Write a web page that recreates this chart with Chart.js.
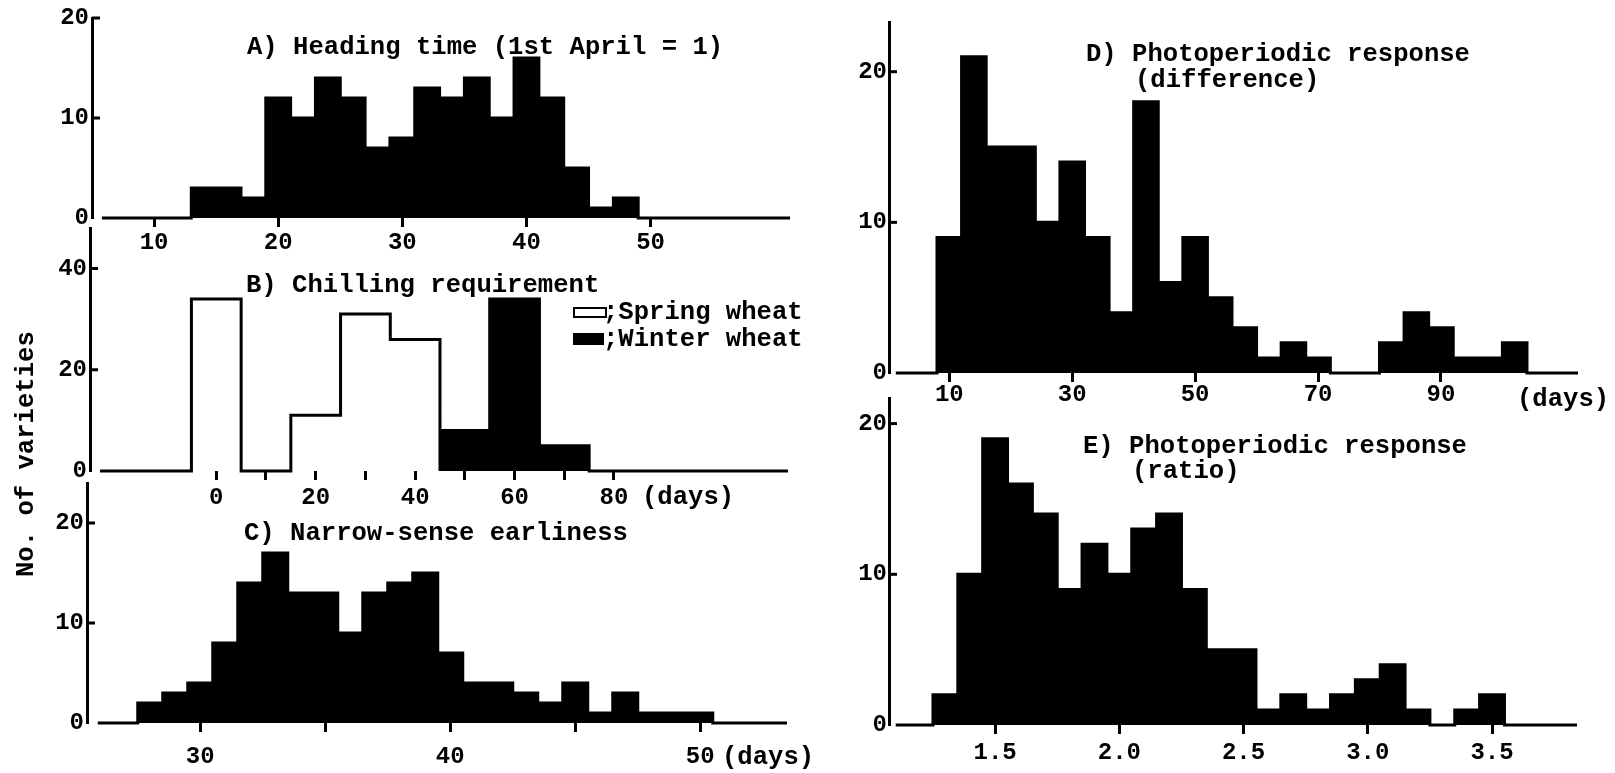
<!DOCTYPE html>
<html>
<head>
<meta charset="utf-8">
<title>Frequency distributions of wheat varieties</title>
<script src="https://cdn.jsdelivr.net/npm/chart.js@4.4.1/dist/chart.umd.min.js"></script>
<style>
  html, body { margin: 0; padding: 0; background: #fff; }
  #page { position: relative; width: 1615px; height: 773px; overflow: hidden; background: #fff; }
  .panel { position: absolute; }
  .txt {
    position: absolute;
    font-family: 'Liberation Mono', 'Courier New', monospace;
    font-weight: bold;
    font-size: 25.6px;
    line-height: 25.6px;
    white-space: pre;
    color: #000;
  }
  .key { position: absolute; box-sizing: border-box; }
</style>
</head>
<body>
<div id="page">
  <div class="panel" id="pA"><canvas id="cA"></canvas></div>
  <div class="panel" id="pB"><canvas id="cB"></canvas></div>
  <div class="panel" id="pC"><canvas id="cC"></canvas></div>
  <div class="panel" id="pD"><canvas id="cD"></canvas></div>
  <div class="panel" id="pE"><canvas id="cE"></canvas></div>

  <div class="txt" style="left:247px; top:35px;">A) Heading time (1st April = 1)</div>
  <div class="txt" style="left:246px; top:273px;">B) Chilling requirement</div>
  <div class="txt" style="left:244px; top:521px;">C) Narrow-sense earliness</div>
  <div class="txt" style="left:1086px; top:42px;">D) Photoperiodic response</div>
  <div class="txt" style="left:1135px; top:68px;">(difference)</div>
  <div class="txt" style="left:1083px; top:434px;">E) Photoperiodic response</div>
  <div class="txt" style="left:1132px; top:459px;">(ratio)</div>

  <div class="key" style="left:573px; top:307px; width:34px; height:11px; border:2.5px solid #000; background:#fff;"></div>
  <div class="txt" style="left:603px; top:300px;">;Spring wheat</div>
  <div class="key" style="left:573px; top:333px; width:31px; height:12px; background:#000;"></div>
  <div class="txt" style="left:603px; top:327px;">;Winter wheat</div>

  <div class="txt" style="left:642px; top:485px;">(days)</div>
  <div class="txt" style="left:722px; top:745px;">(days)</div>
  <div class="txt" style="left:1517px; top:387px;">(days)</div>

  <div class="txt" style="left:14px; top:577px; transform-origin:0 0; transform:rotate(-90deg);">No. of varieties</div>
</div>

<script>
// A) heading time, 2-day classes
var aEdges = [13, 15, 17, 19, 21, 23, 25, 27, 29, 31, 33, 35, 37, 39, 41, 43, 45, 47, 49];
var aCounts = [3, 3, 2, 12, 10, 14, 12, 7, 8, 13, 12, 14, 10, 16, 12, 5, 1, 2];
var aTicks = [10, 20, 30, 40, 50];
var aTickLabels = ['10', '20', '30', '40', '50'];
var aYTicks = [0, 10, 20];

// B) chilling requirement, 10-day classes
var bSpringEdges = [-5, 5, 15, 25, 35, 45];
var bSpringCounts = [34, 0, 11, 31, 26];
var bWinterEdges = [45, 55, 65, 75];
var bWinterCounts = [8, 34, 5];
var bTicks = [0, 10, 20, 30, 40, 50, 60, 70, 80];
var bTickLabels = ['0', '', '20', '', '40', '', '60', '', '80'];
var bYTicks = [0, 20, 40];

// C) narrow-sense earliness, 1-day classes
var cEdges = [27.5, 28.5, 29.5, 30.5, 31.5, 32.5, 33.5, 34.5, 35.5, 36.5, 37.5, 38.5,
              39.5, 40.5, 41.5, 42.5, 43.5, 44.5, 45.5, 46.5, 47.5, 48.5, 49.5, 50.5];
var cCounts = [2, 3, 4, 8, 14, 17, 13, 13, 9, 13, 14, 15, 7, 4, 4, 3, 2, 4, 1, 3, 1, 1, 1];
var cTicks = [30, 35, 40, 45, 50];
var cTickLabels = ['30', '', '40', '', '50'];
var cYTicks = [0, 10, 20];

// D) photoperiodic response (difference), 4-day classes
var dEdges = [8, 12, 16, 20, 24, 28, 32, 36, 40, 44, 48, 52, 56, 60, 64, 68, 72, 76, 80,
              84, 88, 92, 96, 100, 104];
var dCounts = [9, 21, 15, 15, 10, 14, 9, 4, 18, 6, 9, 5, 3, 1, 2, 1, 0, 0, 2, 4, 3, 1, 1, 2];
var dTicks = [10, 30, 50, 70, 90];
var dTickLabels = ['10', '30', '50', '70', '90'];
var dYTicks = [0, 10, 20];

// E) photoperiodic response (ratio), 0.1 classes
var eEdges = [1.25, 1.35, 1.45, 1.55, 1.65, 1.75, 1.85, 1.95, 2.05, 2.15, 2.25, 2.35,
              2.45, 2.55, 2.65, 2.75, 2.85, 2.95, 3.05, 3.15, 3.25, 3.35, 3.45, 3.55];
var eCounts = [2, 10, 19, 16, 14, 9, 12, 10, 13, 14, 9, 5, 5, 1, 2, 1, 2, 3, 4, 1, 0, 1, 2];
var eTicks = [1.5, 2.0, 2.5, 3.0, 3.5];
var eTickLabels = ['1.5', '2.0', '2.5', '3.0', '3.5'];
var eYTicks = [0, 10, 20];

// room around each plot area inside its canvas
var WY = 70, PT = 16, PR = 12, HX = 50;
var tickFont = { family: "'Liberation Mono', 'Courier New', monospace", weight: 'bold', size: 24, lineHeight: 1 };

// histogram outline: baseline from `from`, steps over the classes, baseline on to `to`
function outline(edges, counts, from, to) {
    var pts = [{ x: from, y: 0 }, { x: edges[0], y: 0 }];
    for (var i = 0; i < counts.length; i++) {
        pts.push({ x: edges[i], y: counts[i] });
        pts.push({ x: edges[i + 1], y: counts[i] });
    }
    pts.push({ x: edges[edges.length - 1], y: 0 });
    pts.push({ x: to, y: 0 });
    return pts;
}

function histSet(points, fillColor) {
    return {
        data: points,
        borderColor: '#000',
        backgroundColor: fillColor,
        borderWidth: 3,
        borderJoinStyle: 'miter',
        fill: 'origin',
        tension: 0,
        pointRadius: 0,
        clip: false
    };
}

// short tick marks pointing into the plot from the y axis
var innerTicks = {
    id: 'innerTicks',
    afterDatasetsDraw: function (chart) {
        var s = chart.scales.y, ctx = chart.ctx;
        ctx.save();
        ctx.strokeStyle = '#000';
        ctx.lineWidth = 3;
        s.ticks.forEach(function (t) {
            if (t.value === 0) return;
            var py = s.getPixelForValue(t.value);
            ctx.beginPath();
            ctx.moveTo(s.right, py);
            ctx.lineTo(s.right + 8, py);
            ctx.stroke();
        });
        ctx.restore();
    }
};

function panel(boxId, canvasId, p) {
    var box = document.getElementById(boxId);
    box.style.left = (p.left - WY) + 'px';
    box.style.top = (p.top - PT) + 'px';
    box.style.width = (p.right - p.left + WY + PR) + 'px';
    box.style.height = (p.bottom - p.top + PT + HX) + 'px';

    return new Chart(document.getElementById(canvasId), {
        type: 'line',
        data: { datasets: p.sets },
        options: {
            responsive: true,
            maintainAspectRatio: false,
            animation: false,
            events: [],
            layout: { padding: { left: 0, top: PT, right: PR, bottom: 0 } },
            plugins: { legend: { display: false }, tooltip: { enabled: false } },
            scales: {
                x: {
                    type: 'linear',
                    min: p.xMin,
                    max: p.xMax,
                    border: { display: false },
                    grid: { drawOnChartArea: false, drawTicks: true, tickLength: 9, lineWidth: 3, color: '#000' },
                    ticks: {
                        autoSkip: false,
                        maxRotation: 0,
                        padding: p.labelPad,
                        color: '#000',
                        font: tickFont,
                        callback: function (v, i) { return p.tickLabels[i]; }
                    },
                    afterBuildTicks: function (s) {
                        s.ticks = p.ticks.map(function (v) { return { value: v }; });
                    },
                    afterFit: function (s) {
                        s.height = HX;
                        s.paddingLeft = 0;
                        s.paddingRight = 0;
                    }
                },
                y: {
                    min: 0,
                    max: p.yMax,
                    border: { display: true, width: 3, color: '#000' },
                    grid: { drawOnChartArea: false, drawTicks: false },
                    ticks: { padding: p.yPad, color: '#000', font: tickFont },
                    afterBuildTicks: function (s) {
                        s.ticks = p.yTicks.map(function (v) { return { value: v }; });
                    },
                    afterFit: function (s) {
                        s.width = WY;
                        s.paddingTop = 0;
                        s.paddingBottom = 0;
                    }
                }
            }
        },
        plugins: [innerTicks]
    });
}

panel('pA', 'cA', {
    left: 92, top: 18, bottom: 218, right: 790,
    xMin: 5, xMax: 61.23, yMax: 20, labelPad: 4, yPad: 3,
    ticks: aTicks, tickLabels: aTickLabels, yTicks: aYTicks,
    sets: [histSet(outline(aEdges, aCounts, 5.8, 61.23), '#000')]
});

panel('pB', 'cB', {
    left: 90, top: 228, bottom: 471, right: 788,
    xMin: -25.4, xMax: 115, yMax: 48, labelPad: 6, yPad: 3,
    ticks: bTicks, tickLabels: bTickLabels, yTicks: bYTicks,
    sets: [
        histSet(outline(bSpringEdges, bSpringCounts, -23.4, 45), '#fff'),
        histSet(outline(bWinterEdges, bWinterCounts, 45, 115), '#000')
    ]
});

panel('pC', 'cC', {
    left: 87, top: 483, bottom: 723, right: 787,
    xMin: 25.47, xMax: 53.47, yMax: 24, labelPad: 13, yPad: 3,
    ticks: cTicks, tickLabels: cTickLabels, yTicks: cYTicks,
    sets: [histSet(outline(cEdges, cCounts, 25.9, 53.47), '#000')]
});

panel('pD', 'cD', {
    left: 889, top: 22, bottom: 373, right: 1578,
    xMin: 0.19, xMax: 112.3, yMax: 23.3, labelPad: 1, yPad: 2,
    ticks: dTicks, tickLabels: dTickLabels, yTicks: dYTicks,
    sets: [histSet(outline(dEdges, dCounts, 1.3, 112.3), '#000')]
});

panel('pE', 'cE', {
    left: 889, top: 398, bottom: 725, right: 1577,
    xMin: 1.073, xMax: 3.842, yMax: 21.7, labelPad: 7, yPad: 2,
    ticks: eTicks, tickLabels: eTickLabels, yTicks: eYTicks,
    sets: [histSet(outline(eEdges, eCounts, 1.1, 3.842), '#000')]
});
</script>
</body>
</html>
